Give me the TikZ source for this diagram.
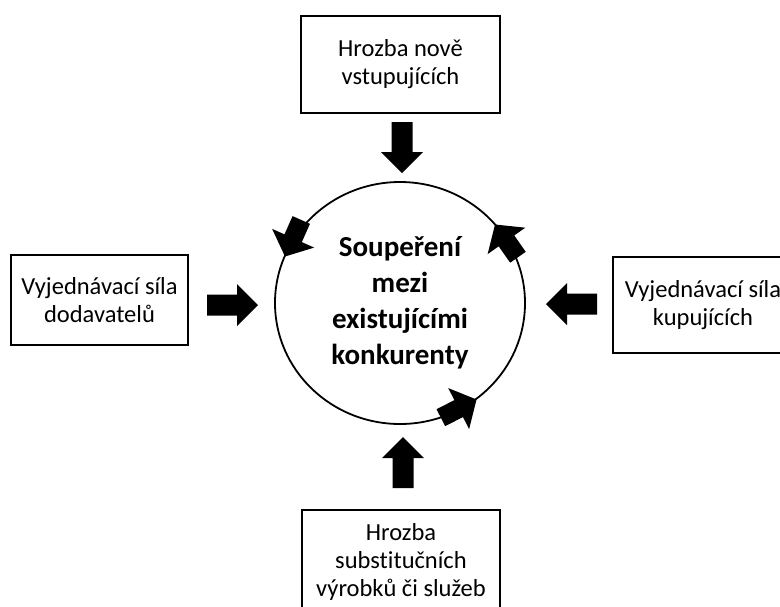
\documentclass[tikz,border=0pt]{standalone}
\usepackage{fontspec}
\setmainfont{Carlito}[RawFeature={-liga}]
\usetikzlibrary{shapes.geometric}

% block arrow with its tip at the origin, pointing along +x:
% #1 total length, #2 head length, #3 half head width, #4 half shaft width
\tikzset{pics/blockarrow/.style n args={4}{code={
  \fill[black] (0,0) -- (-#2,#3) -- (-#2,#4) -- (-#1,#4) -- (-#1,-#4)
    -- (-#2,-#4) -- (-#2,-#3) -- cycle;}}}

\begin{document}
\begin{tikzpicture}[x=1pt,y=-1pt,
  forcebox/.style={draw=black, line width=1.5pt, rectangle, align=center,
    inner sep=0pt, font=\fontsize{24.5}{28}\selectfont}]

  \useasboundingbox (0,0) rectangle (780,606);

  % central rivalry ring
  \node[ellipse, draw=black, line width=1.8pt, minimum width=250pt,
        minimum height=242pt, inner sep=0pt, align=center,
        font=\bfseries\fontsize{29}{36}\selectfont] (rivalry) at (400,303)
        {Soupeření\\mezi\\existujícími\\konkurenty};

  % the four outer forces
  \node[forcebox, minimum width=199pt, minimum height=97pt] (entrants) at (400.5,64.5)
        {Hrozba nově\\vstupujících};
  \node[forcebox, minimum width=177pt, minimum height=90pt] (suppliers) at (99.5,300)
        {Vyjednávací síla\\dodavatelů};
  \node[forcebox, minimum width=180pt, minimum height=96pt] (buyers) at (703,305)
        {Vyjednávací síla\\kupujících};
  \node[forcebox, minimum width=198pt, minimum height=104pt] (substitutes) at (401,562)
        {Hrozba\\substitučních\\výrobků či služeb};

  % block arrows pushing towards the centre
  \pic[rotate=-90] (arrEntrants) at (402,173) {blockarrow={51}{21}{21}{10.5}};
  \pic[rotate=90] (arrSubstitutes) at (403,437) {blockarrow={51}{21}{21}{10.5}};
  \pic[rotate=0] (arrSuppliers) at (258,305) {blockarrow={51}{21}{21}{10.5}};
  \pic[rotate=180] (arrBuyers) at (546,304) {blockarrow={51}{21}{21}{10.5}};

  % arrows circulating along the ring
  \pic[rotate=246] (ringA) at (285,256.5) {blockarrow={40}{20}{23}{9.5}};
  \pic[rotate=125] (ringB) at (495,224.5) {blockarrow={40}{20}{23}{9.5}};
  \pic[rotate=27] (ringC) at (476.5,399.5) {blockarrow={40}{20}{23}{9.5}};
\end{tikzpicture}
\end{document}
